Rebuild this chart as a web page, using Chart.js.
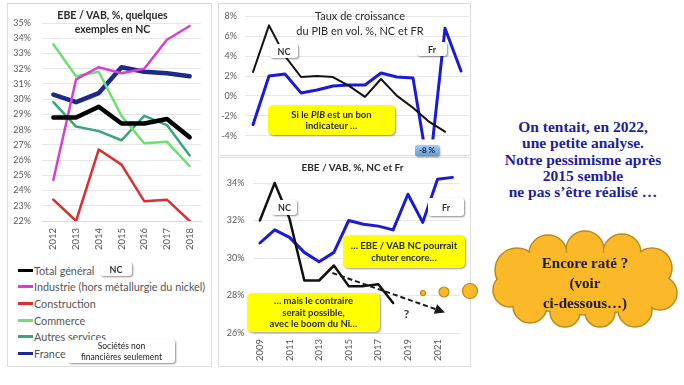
<!DOCTYPE html>
<html><head><meta charset="utf-8">
<script src="https://cdn.jsdelivr.net/npm/chart.js@4.4.1/dist/chart.umd.min.js"></script>
<style>
body{margin:0;background:#fff;width:684px;height:385px;position:relative;overflow:hidden;font-family:Lato,"Open Sans",sans-serif}
canvas{position:absolute}
.panel{position:absolute;border:1px solid #dcdcdc;box-sizing:border-box}
.t{position:absolute;text-align:center;color:#2a2a2a;line-height:14px}
.ybox{position:absolute;background:#ffff00;border-radius:5px;box-shadow:1px 1px 2px rgba(0,0,0,.4);font-weight:bold;font-size:9.5px;text-align:center;color:#2a2a2a;line-height:11.5px;display:flex;align-items:center;justify-content:center}
.wbox{position:absolute;background:#fff;border-radius:3px;box-shadow:1px 1px 2px rgba(0,0,0,.45);font-weight:bold;font-size:9px;text-align:center;color:#333;display:flex;align-items:center;justify-content:center;line-height:11px}
#legend{position:absolute;left:18px;top:262px;font-size:10.8px;color:#555}
#legend div{height:16.6px;display:flex;align-items:center}
#legend span.m{display:inline-block;width:15px;height:3px;margin-right:1px}
.serif{font-family:"Liberation Serif","DejaVu Serif",serif;font-weight:bold}
</style></head><body>
<div class="panel" style="left:7px;top:3px;width:205px;height:364px"></div>
<div class="panel" style="left:218px;top:3px;width:253px;height:153px"></div>
<div class="panel" style="left:218px;top:157px;width:253px;height:210px"></div>
<canvas id="c1" width="204" height="259" style="left:7px;top:3px"></canvas>
<canvas id="c2" width="252" height="150" style="left:218px;top:3px"></canvas>
<canvas id="c3" width="252" height="208" style="left:218px;top:158px"></canvas>

<div class="t" style="left:30px;top:8px;width:165px;font-weight:bold;font-size:10.5px">EBE / VAB, %, quelques<br>exemples en NC</div>
<div id="legend"></div>
<div class="wbox" style="left:100px;top:262px;width:32px;height:14px">NC</div>
<div class="wbox" style="left:68px;top:340px;width:107px;height:23px;font-weight:normal;font-size:8.5px;color:#222">Sociétés non<br>financières seulement</div>

<div class="t" style="left:275px;top:8px;width:170px;font-size:11px;line-height:15px">Taux de croissance<br>du PIB en vol. %, NC et FR</div>
<div class="wbox" style="left:270px;top:44px;width:28px;height:14px">NC</div>
<div class="wbox" style="left:417px;top:42px;width:30px;height:14px">Fr</div>
<div class="ybox" style="left:268px;top:105px;width:127px;height:30px;flex-direction:column"><div>Si le <i>PIB</i> est un bon</div><div>indicateur …</div></div>
<div class="wbox" style="left:415px;top:145px;width:24px;height:11px;font-size:8px;background:linear-gradient(#a6cdf5,#5d9bd8);color:#223;border-radius:2px">-8 %</div>

<div class="t" style="left:280px;top:160px;width:145px;font-weight:bold;font-size:10px">EBE / VAB, %, NC et Fr</div>
<div class="wbox" style="left:272px;top:200px;width:25px;height:15px">NC</div>
<div class="wbox" style="left:428px;top:198px;width:36px;height:18px">Fr</div>
<div class="ybox" style="left:343px;top:235px;width:122px;height:33px">… EBE / VAB NC pourrait<br>chuter encore…</div>
<div class="ybox" style="left:247px;top:293px;width:133px;height:39px">… mais le contraire<br>serait possible,<br>avec le boom du Ni…</div>

<div class="t serif" style="left:483px;top:119px;width:200px;font-size:15.5px;line-height:16.3px;color:#1e1e9c">On tentait, en 2022,<br>une petite analyse.<br>Notre pessimisme après<br>2015 semble<br>ne pas s’être réalisé …</div>

<svg style="position:absolute;left:0;top:0" width="684" height="385">
 <g fill="#fbb829" stroke="#b98a1c" stroke-width="1.2">
  <circle cx="423" cy="293" r="2.5"/><circle cx="444" cy="292" r="5"/><circle cx="470" cy="291" r="7.5"/>
 </g>
 <g fill="#fbb829" stroke="#b98a1c" stroke-width="1.5">
  <ellipse cx="585" cy="283" rx="78" ry="32"/>
  <circle cx="517" cy="270" r="22"/><circle cx="548" cy="254" r="19"/><circle cx="585" cy="250" r="19"/>
  <circle cx="622" cy="253" r="19"/><circle cx="652" cy="268" r="20"/><circle cx="660" cy="293" r="17"/>
  <circle cx="635" cy="310" r="17"/><circle cx="600" cy="312" r="15"/><circle cx="565" cy="312" r="15"/>
  <circle cx="530" cy="306" r="17"/><circle cx="510" cy="290" r="17"/>
 </g>
 <g fill="#fbb829" stroke="none">
  <ellipse cx="585" cy="283" rx="77" ry="31"/>
  <circle cx="517" cy="270" r="21"/><circle cx="548" cy="254" r="18"/><circle cx="585" cy="250" r="18"/>
  <circle cx="622" cy="253" r="18"/><circle cx="652" cy="268" r="19"/><circle cx="660" cy="293" r="16"/>
  <circle cx="635" cy="310" r="16"/><circle cx="600" cy="312" r="14"/><circle cx="565" cy="312" r="14"/>
  <circle cx="530" cy="306" r="16"/><circle cx="510" cy="290" r="16"/>
 </g>
</svg>
<div class="t serif" style="left:505px;top:253px;width:160px;font-size:15px;line-height:20px;color:#1a1a1a">Encore raté ?<br>(voir<br>ci-dessous…)</div>

<script>
// ---- Data: left chart (EBE / VAB, NC sectors) ----
const yearsSect = ['2012','2013','2014','2015','2016','2017','2018'];
const totalGeneral = [28.8, 28.8, 29.5, 28.4, 28.4, 28.7, 27.5];
const industrie    = [24.7, 31.3, 32.1, 31.7, 32.0, 33.9, 34.8];
const construction = [23.4, 22.0, 26.7, 25.7, 23.3, 23.4, 22.0];
const commerce     = [33.6, 31.5, 31.8, 28.9, 27.1, 27.2, 25.6];
const autresServ   = [29.8, 28.2, 27.9, 27.3, 28.9, 28.3, 26.3];
const franceSect   = [30.3, 29.8, 30.4, 32.1, 31.8, 31.7, 31.5];
const sectTicks    = [22,23,24,25,26,27,28,29,30,31,32,33,34,35];

// ---- Data: GDP growth (%) ----
const yearsLong = ['2009','2010','2011','2012','2013','2014','2015','2016','2017','2018','2019','2020','2021','2022'];
const pibNC = [2.4, 7.1, 4.0, 1.9, 2.0, 1.9, 1.0, -0.1, 1.7, 0.0, -1.2, -2.6, -3.6, null];
const pibFR = [-2.9, 2.0, 2.2, 0.3, 0.6, 1.0, 1.1, 1.1, 2.3, 1.9, 1.8, -7.9, 6.8, 2.5];
const pibTicks = [-4,-2,0,2,4,6,8];

// ---- Data: EBE / VAB NC and FR ----
const ebeNC = [32.0, 34.0, 32.1, 28.8, 28.8, 29.6, 28.5, 28.5, 28.6, 27.6, null, null, null, null];
const ebeFR = [30.8, 31.5, 31.1, 30.3, 29.8, 30.3, 32.0, 31.8, 31.7, 31.5, 33.4, 31.9, 34.2, 34.3];
const ebeTicks = [26,28,30,32,34];
const arrowFrom = [4.9, 29.2];   // [category index, value]
const arrowTo   = [12.5, 27.1];
const questionAt = [9.9, 27.0];

const FONT = 'Lato, "Open Sans", sans-serif';
const GRID = '#e6e6e6';
const TICKC = '#5a5a5a';
const pct = v => v + '%';
const fixTicks = list => (s => { s.ticks = list.map(v => ({value: v})); });

function base(yMin, yMax, yTicks, yW, padTick, xOpts, pad) {
  return {
    responsive:false, animation:false, devicePixelRatio:1,
    layout:{padding:pad},
    plugins:{legend:{display:false}, tooltip:{enabled:false}},
    elements:{point:{radius:0}, line:{tension:0, borderCapStyle:'round', borderJoinStyle:'round'}},
    scales:{
      x: xOpts,
      y:{min:yMin, max:yMax, afterBuildTicks:fixTicks(yTicks), afterFit:s=>{s.width=yW;},
         border:{display:false}, grid:{color:GRID, drawTicks:false},
         ticks:{color:TICKC, font:{family:FONT, size:9}, padding:padTick, callback:pct}}
    }
  };
}

// ---- Chart 1 ----
const sectDefs = [
  ['Total général', totalGeneral, '#000000', 4.5],
  ['Industrie (hors métallurgie du nickel)', industrie, '#d63fd6', 2.5],
  ['Construction', construction, '#d92f2f', 2.5],
  ['Commerce', commerce, '#6fe06f', 2.5],
  ['Autres services', autresServ, '#3aa577', 2.5],
  ['France', franceSect, '#1c2a8c', 4.5]
];
new Chart(document.getElementById('c1'), {
  type:'line',
  data:{labels:yearsSect, datasets:sectDefs.map(d=>({label:d[0], data:d[1], borderColor:d[2], borderWidth:d[3]}))},
  options: base(22, 35, sectTicks, 35, 11,
    {offset:true, grid:{display:false, drawTicks:false}, border:{color:'#d9d9d9'}, afterFit:s=>{s.height=41;},
     ticks:{color:TICKC, font:{family:FONT, size:9.5}, minRotation:90, maxRotation:90, padding:7}},
    {top:20, right:10, left:0, bottom:0})
});
const lg = document.getElementById('legend');
sectDefs.forEach(d=>{
  const row = document.createElement('div');
  row.innerHTML = '<span class="m" style="background:'+d[2]+'"></span>'+d[0];
  lg.appendChild(row);
});

// ---- Chart 2 ----
new Chart(document.getElementById('c2'), {
  type:'line',
  data:{labels:yearsLong, datasets:[
    {label:'NC', data:pibNC, borderColor:'#111', borderWidth:2},
    {label:'Fr', data:pibFR, borderColor:'#1a1ad8', borderWidth:3}
  ]},
  options: base(-4.4, 8, pibTicks, 27, 8, {display:false, offset:true}, {top:10, right:1, left:0, bottom:2.5})
});

// ---- Chart 3 ----
const arrowPlugin = {
  id:'arrow',
  afterDatasetsDraw(chart){
    const {ctx, scales:{x, y}} = chart;
    const x1 = x.getPixelForValue(arrowFrom[0]), y1 = y.getPixelForValue(arrowFrom[1]);
    const x2 = x.getPixelForValue(arrowTo[0]), y2 = y.getPixelForValue(arrowTo[1]);
    const a = Math.atan2(y2-y1, x2-x1);
    ctx.save();
    ctx.strokeStyle = '#1a1a1a'; ctx.fillStyle = '#1a1a1a'; ctx.lineWidth = 2;
    ctx.setLineDash([5,3]);
    ctx.beginPath(); ctx.moveTo(x1,y1); ctx.lineTo(x2-7*Math.cos(a), y2-7*Math.sin(a)); ctx.stroke();
    ctx.setLineDash([]);
    ctx.beginPath();
    ctx.moveTo(x2,y2);
    ctx.lineTo(x2-10*Math.cos(a)+5*Math.sin(a), y2-10*Math.sin(a)-5*Math.cos(a));
    ctx.lineTo(x2-10*Math.cos(a)-5*Math.sin(a), y2-10*Math.sin(a)+5*Math.cos(a));
    ctx.closePath(); ctx.fill();
    ctx.font = 'bold 12px ' + FONT; ctx.textAlign = 'center'; ctx.textBaseline = 'middle';
    ctx.fillStyle = '#333';
    ctx.fillText('?', x.getPixelForValue(questionAt[0]), y.getPixelForValue(questionAt[1]));
    ctx.restore();
  }
};
new Chart(document.getElementById('c3'), {
  type:'line',
  data:{labels:yearsLong, datasets:[
    {label:'NC', data:ebeNC, borderColor:'#111', borderWidth:2.5},
    {label:'Fr', data:ebeFR, borderColor:'#1a1ad8', borderWidth:3}
  ]},
  options: base(26, 34.6, ebeTicks, 34.5, 8,
    {offset:true, grid:{display:false, drawTicks:false}, border:{display:false}, afterFit:s=>{s.height=33;},
     ticks:{color:TICKC, font:{family:FONT, size:9.5}, minRotation:90, maxRotation:90, padding:6, autoSkip:false,
            callback:function(v,i){ return i%2===0 ? this.getLabelForValue(v) : ''; }}},
    {top:13.75, right:7.5, left:0, bottom:0}),
  plugins:[arrowPlugin]
});
</script>
</body></html>
